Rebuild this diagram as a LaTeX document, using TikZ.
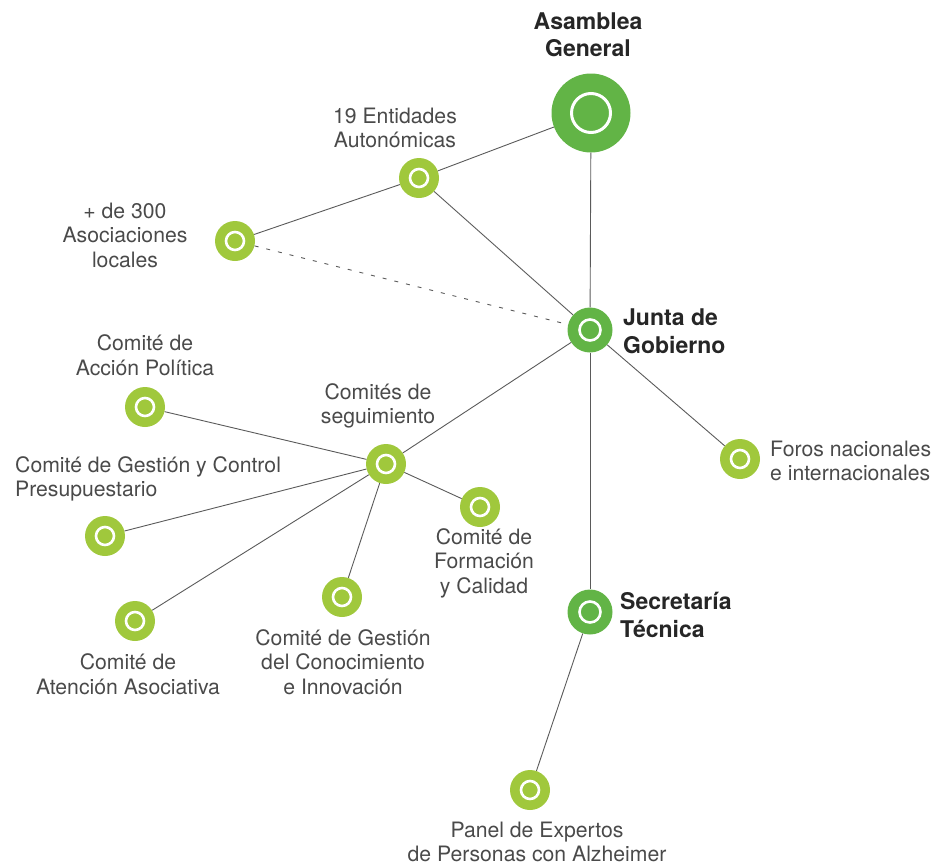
\documentclass[tikz,border=0pt]{standalone}
\usepackage{fontspec}
\setmainfont{TeX Gyre Heros}
\definecolor{lime}{HTML}{A0C83C}
\definecolor{leaf}{HTML}{62B446}
\definecolor{ink}{HTML}{4A4A4A}
\definecolor{wire}{HTML}{5A5A5A}

\begin{document}
\begin{tikzpicture}[
		x=1pt, y=-1pt,
		hub/.style={circle, draw=none, inner sep=0pt, minimum size=#1},
		small/.style={hub=40pt, fill=lime,
			path picture={\draw[white, line width=2.6pt] (path picture bounding box.center) circle (9pt);}},
		mid/.style={hub=45pt, fill=leaf,
			path picture={\draw[white, line width=2.6pt] (path picture bounding box.center) circle (10.5pt);}},
		big/.style={hub=79pt, fill=leaf,
			path picture={\draw[white, line width=3pt] (path picture bounding box.center) circle (19.5pt);}},
		txt/.style={inner sep=0pt, align=center, text=ink, font=\fontsize{21.2}{24.5}\selectfont},
		head/.style={txt, text=black!85, font=\fontsize{23}{27.5}\selectfont\bfseries},
		link/.style={draw=wire, line width=0.9pt},
	]
		\useasboundingbox (0,0) rectangle (949,865);

		% hubs
		\node [big] (asamblea) at (591,113) {};
		\node [small] (entidades) at (419,178) {};
		\node [small] (asoc) at (235,241) {};
		\node [mid] (junta) at (590,330) {};
		\node [small] (foros) at (740,459) {};
		\node [mid] (secre) at (590,612) {};
		\node [small] (panel) at (530,790) {};
		\node [small] (segui) at (386,464) {};
		\node [small] (politica) at (145,407) {};
		\node [small] (presup) at (105,536) {};
		\node [small] (atencion) at (135,621) {};
		\node [small] (conoc) at (342,597) {};
		\node [small] (formacion) at (480,507) {};

		% labels
		\node [head] (asamblea-t) at (588,35) {Asamblea\\General};
		\node [txt] (entidades-t) at (395,128) {19 Entidades\\Autonómicas};
		\node [txt] (asoc-t) at (125,235) {+ de 300\\Asociaciones\\locales};
		\node [head, anchor=west, align=left] (junta-t) at (623,331) {Junta de\\Gobierno};
		\node [txt, anchor=west, align=left] (foros-t) at (770,461) {Foros nacionales\\e internacionales};
		\node [head, anchor=west, align=left] (secre-t) at (620,615) {Secretaría\\Técnica};
		\node [txt] (panel-t) at (537,842) {Panel de Expertos\\de Personas con Alzheimer};
		\node [txt] (segui-t) at (378,406) {Comités de\\seguimiento};
		\node [txt] (politica-t) at (145,355) {Comité de\\Acción Política};
		\node [txt, anchor=west, align=left] (presup-t) at (15,479) {Comité de Gestión y Control\\Presupuestario};
		\node [txt] (atencion-t) at (128,674) {Comité de\\Atención Asociativa};
		\node [txt] (conoc-t) at (343,662) {Comité de Gestión\\del Conocimiento\\e Innovación};
		\node [txt] (formacion-t) at (484,563) {Comité de\\Formación\\y Calidad};

		% links
		\draw [link] (asamblea) -- (entidades);
		\draw [link] (asamblea) -- (junta);
		\draw [link] (entidades) -- (asoc);
		\draw [link] (entidades) -- (junta);
		\draw [link, dash pattern=on 4pt off 8pt] (asoc) -- (junta);
		\draw [link] (junta) -- (foros);
		\draw [link] (junta) -- (secre);
		\draw [link] (junta) -- (segui);
		\draw [link] (secre) -- (panel);
		\draw [link] (segui) -- (politica);
		\draw [link] (segui) -- (presup);
		\draw [link] (segui) -- (atencion);
		\draw [link] (segui) -- (conoc);
		\draw [link] (segui) -- (formacion);
	\end{tikzpicture}
\end{document}
